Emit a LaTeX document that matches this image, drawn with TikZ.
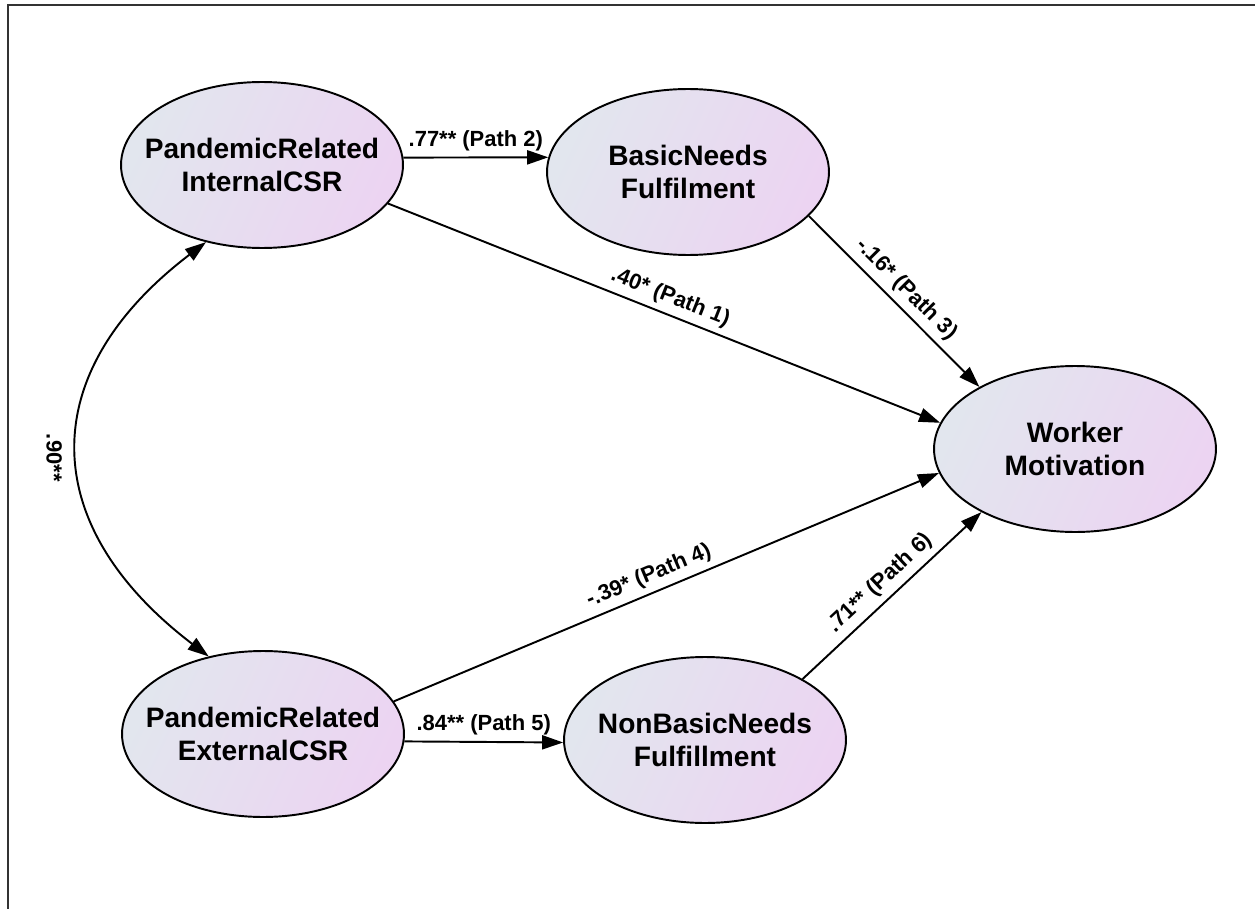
\documentclass[tikz,border=0pt]{standalone}
\usepackage{fontspec}
\setmainfont{Liberation Sans}
\usetikzlibrary{shapes.geometric,arrows.meta}
\definecolor{latentL}{RGB}{226,230,238}
\definecolor{latentR}{RGB}{236,212,242}
\tikzset{
  latent/.style={ellipse, draw, line width=1.1pt, minimum width=5.64cm, minimum height=3.32cm,
    inner sep=0pt, left color=latentL, right color=latentR, shading angle=65},
  vname/.style={align=center, font=\fontsize{16}{18.7}\selectfont\bfseries},
  effect/.style={line width=1.1pt, -{Triangle[length=12pt,width=8pt]}},
  cov/.style={line width=1.1pt, {Triangle[length=12pt,width=8pt]}-{Triangle[length=12pt,width=8pt]}},
  coef/.style={font=\fontsize{12.5}{15}\selectfont\bfseries},
  frame/.style={line width=0.9pt, black!80},
}
\begin{document}
\begin{tikzpicture}[x=0.02cm, y=-0.02cm]
    \useasboundingbox (0,0) rectangle (1255,909);
    \draw[frame] (8,909) -- (8,5) -- (1255,5);

    % latent variables
    \node[latent, label={[vname]center:{PandemicRelated\\InternalCSR}}] (int) at (262,165) {};
    \node[latent, label={[vname]center:{BasicNeeds\\Fulfilment}}] (bn) at (688,172) {};
    \node[latent, label={[vname]center:{Worker\\Motivation}}] (wm) at (1075,449) {};
    \node[latent, label={[vname]center:{PandemicRelated\\ExternalCSR}}] (ext) at (263,734) {};
    \node[latent, label={[vname]center:{NonBasicNeeds\\Fulfillment}}] (nbn) at (705,740) {};

    % paths
    \draw[effect] (int.-17) -- node[coef, sloped, above] {.40* (Path 1)} (wm.169);
    \draw[effect] (int.3.3) -- node[coef, above] {.77** (Path 2)} (bn.174);
    \draw[effect] (bn.-20) -- node[coef, sloped, above] {-.16* (Path 3)} (wm.147);
    \draw[effect] (ext.14) -- node[coef, sloped, above, pos=0.48] {-.39* (Path 4)} (wm.-170.5);
    \draw[effect] (ext.-3.3) -- node[coef, above] {.84** (Path 5)} (nbn.181);
    \draw[effect] (nbn.32) -- node[coef, sloped, above] {.71** (Path 6)} (wm.-146);

    % covariance
    \draw[cov] (int.-126) .. controls +(-172,131) and +(-172,-131) .. node[coef, pos=0.52, rotate=-90, anchor=north, inner sep=9pt] {.90**} (ext.125);
\end{tikzpicture}
\end{document}
